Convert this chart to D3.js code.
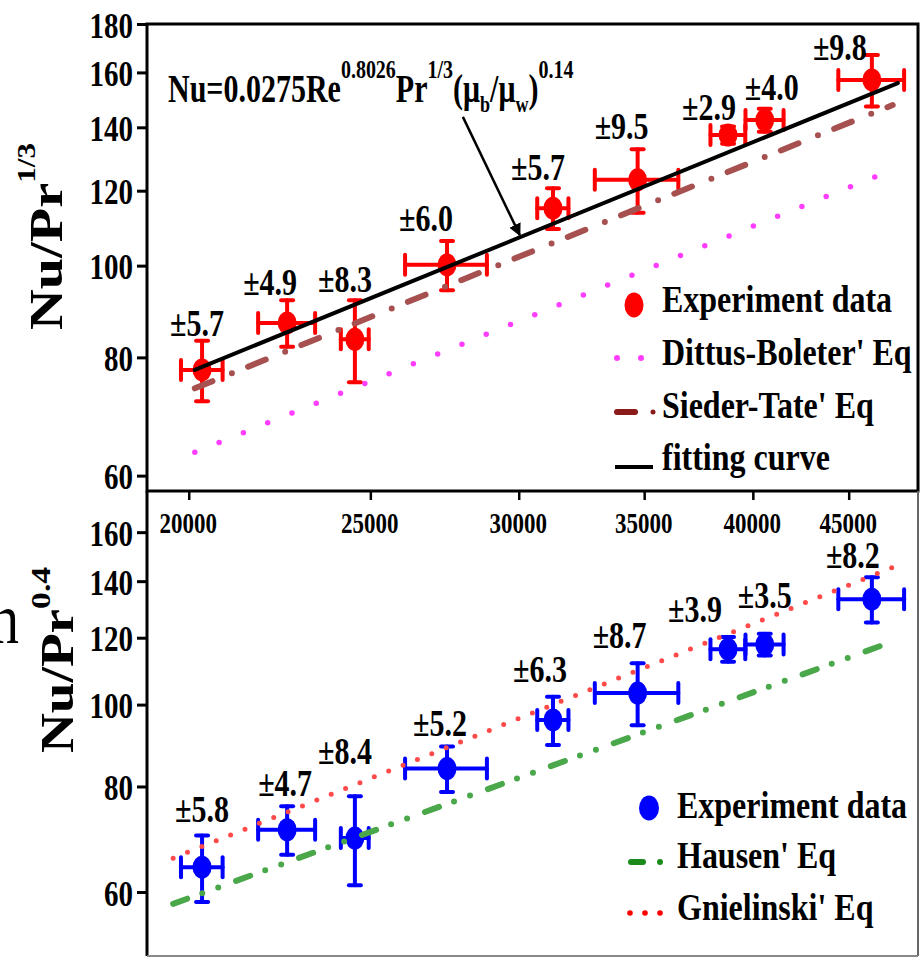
<!DOCTYPE html>
<html>
<head>
<meta charset="utf-8">
<script src="https://cdn.jsdelivr.net/npm/d3@7"></script>
<style>
  body { margin: 0; background: #fff; }
  svg { display: block; }
</style>
</head>
<body>
<div id="chart"></div>
<script>
// Re of each run (shared by both panels) and its horizontal error
var re = [20330, 22570, 24530, 27470, 31290, 34720, 38800, 40590, 46300];
var reErr = [520, 790, 420, 1380, 600, 1780, 830, 950, 1870];

// top panel : Nu/Pr^(1/3)
var nuTop = [77.6, 87.0, 83.6, 100.2, 115.0, 123.2, 137.4, 142.5, 157.1];
var errTop = [5.7, 4.9, 8.3, 6.0, 5.7, 9.5, 2.9, 4.0, 9.8];

// bottom panel : Nu/Pr^0.4
var nuBot = [64.2, 71.1, 69.5, 84.0, 95.9, 103.2, 116.3, 117.8, 133.3];
var errBot = [5.8, 4.7, 8.4, 5.2, 6.3, 8.7, 3.9, 3.5, 8.2];

// correlations (straight lines on log-log, end points)
var fitRe = [20150, 47800], fitNu = [77.6, 155.9];
var siederRe = [20150, 47500], siederNu = [74.2, 147.8];
var dittusRe = [20150, 46470], dittusNu = [63.5, 124.1];
var hausenRe = [19620, 47220], hausenNu = [58.1, 118.2];
var gnielRe = [19620, 47510], gnielNu = [65.8, 145.4];

// arrow from the equation to the fitting curve (data coords)
var arrowRe = [28010, 30040], arrowNu = [143.6, 107.7];

// ticks
var xTicks = [20000, 25000, 30000, 35000, 40000, 45000];
var yTicksTop = [60, 80, 100, 120, 140, 160, 180];
var yTicksBot = [60, 80, 100, 120, 140, 160];

var legendTop = ["Experiment data", "Dittus-Boleter' Eq", "Sieder-Tate' Eq", "fitting curve"];
var legendBot = ["Experiment data", "Hausen' Eq", "Gnielinski' Eq"];

var W = 921, H = 958;
var left = 147, right = 918, top1 = 24, mid = 491, bot2 = 956;
var SERIF = "'Liberation Serif', 'Times New Roman', serif";

var svg = d3.select("#chart").append("svg")
    .attr("width", W)
    .attr("height", H)
    .style("background", "#fff");

var x = d3.scaleLog().domain([19000, 49000]).range([left, right]);
var yTop = d3.scaleLog().domain([57.8, 180]).range([mid, top1]);
var yBot = d3.scaleLog().domain([50.4, 179]).range([bot2, mid]);

// text helper, the figure is stretched vertically
function stext(g, px, py, str, size, sy, anchor, weight) {
    return g.append("text")
        .attr("transform", "translate(" + px + "," + py + ") scale(1," + sy + ")")
        .attr("text-anchor", anchor || "start")
        .style("font-family", SERIF)
        .style("font-weight", weight || "bold")
        .style("font-size", size + "px")
        .attr("fill", "#000")
        .text(str);
}

// y axes
function yAxis(scale, ticks) {
    var g = svg.append("g")
        .attr("transform", "translate(" + left + ",0)")
        .call(d3.axisLeft(scale).tickValues(ticks).tickFormat(d3.format("d")).tickSize(10).tickSizeOuter(0));
    g.select(".domain").remove();
    g.selectAll(".tick line").attr("stroke", "#000").attr("stroke-width", 3);
    g.selectAll(".tick text")
        .attr("x", 0)
        .attr("dy", "0.36em")
        .attr("transform", "translate(-14,0) scale(1,1.27)")
        .attr("fill", "#000")
        .style("font-family", SERIF)
        .style("font-weight", "bold")
        .style("font-size", "29px");
}
yAxis(yTop, yTicksTop);
yAxis(yBot, yTicksBot);

// x axis on the shared middle line
var xg = svg.append("g")
    .attr("transform", "translate(0," + mid + ")")
    .call(d3.axisBottom(x).tickValues(xTicks).tickFormat(d3.format("d")).tickSize(9).tickSizeOuter(0));
xg.select(".domain").remove();
xg.selectAll(".tick line").attr("stroke", "#000").attr("stroke-width", 2.5);
xg.selectAll(".tick text")
    .attr("y", 0)
    .attr("dy", 0)
    .attr("transform", "translate(-1,42) scale(1,1.29)")
    .attr("fill", "#000")
    .style("font-family", SERIF)
    .style("font-weight", "bold")
    .style("font-size", "23px");

// axis titles
function yTitle(px, py, sup, size, supSize, supDy) {
    var t = svg.append("text")
        .attr("transform", "translate(" + px + "," + py + ") rotate(-90) scale(1.2,1)")
        .style("font-family", SERIF)
        .style("font-weight", "bold")
        .style("font-size", size + "px")
        .attr("fill", "#000");
    t.append("tspan").text("Nu/Pr");
    t.append("tspan").style("font-size", supSize + "px").attr("dy", supDy).text(sup);
}
yTitle(62, 330, "1/3", 47, 26, -27);
yTitle(73, 753, "0.4", 46, 28, -23);

// piece of a neighbouring label cut by the crop
stext(svg, 19, 643, "n", 56, 1.27, "end", "normal");

// data points with error bars
function drawPoints(y, vals, errs, color) {
    var rows = re.map(function (r, i) {
        return { r: r, rE: reErr[i], v: vals[i], e: errs[i] };
    });
    var g = svg.append("g").attr("stroke", color).attr("stroke-width", 4).attr("stroke-linecap", "round");
    rows.forEach(function (d) {
        var cx = x(d.r), cy = y(d.v);
        var yt = y(d.v + d.e), yb = y(d.v - d.e);
        var xl = x(d.r - d.rE), xr = x(d.r + d.rE);
        g.append("line").attr("x1", cx).attr("x2", cx).attr("y1", yt).attr("y2", yb);
        g.append("line").attr("x1", cx - 6).attr("x2", cx + 6).attr("y1", yt).attr("y2", yt);
        g.append("line").attr("x1", cx - 6).attr("x2", cx + 6).attr("y1", yb).attr("y2", yb);
        g.append("line").attr("x1", xl).attr("x2", xr).attr("y1", cy).attr("y2", cy);
        g.append("line").attr("x1", xl).attr("x2", xl).attr("y1", cy - 10).attr("y2", cy + 10);
        g.append("line").attr("x1", xr).attr("x2", xr).attr("y1", cy - 10).attr("y2", cy + 10);
        g.append("ellipse").attr("cx", cx).attr("cy", cy).attr("rx", 9.5).attr("ry", 11.5)
            .attr("fill", color).attr("stroke", "none");
    });
}
drawPoints(yTop, nuTop, errTop, "#ff0000");
drawPoints(yBot, nuBot, errBot, "#0000ff");

// error value labels
var topDx = [-5, -17, -10, -21, -15, -16, -19, 7, -32];
var topDy = [-5, -5, -8, -10, -8, -10, -6, -9, 5];
var botDx = [0, -2, -10, -7, -13, -18, -33, 0, -19];
var botDy = [-13, -10, -32, -11, -15, -15, -15, -26, -9];
re.forEach(function (r, i) {
    stext(svg, x(r) + topDx[i], yTop(nuTop[i] + errTop[i]) + topDy[i], "\u00b1" + errTop[i].toFixed(1), 30, 1.27, "middle");
    stext(svg, x(r) + botDx[i], yBot(nuBot[i] + errBot[i]) + botDy[i], "\u00b1" + errBot[i].toFixed(1), 30, 1.27, "middle");
});

// correlation lines
function corr(y, res, nus, color, width, dash) {
    var line = d3.line().x(function (d) { return x(d[0]); }).y(function (d) { return y(d[1]); });
    svg.append("path")
        .datum(res.map(function (r, i) { return [r, nus[i]]; }))
        .attr("d", line)
        .attr("fill", "none")
        .attr("stroke", color)
        .attr("stroke-width", width)
        .attr("stroke-linecap", "round")
        .attr("stroke-dasharray", dash);
}
corr(yTop, dittusRe, dittusNu, "#ff3dff", 5.5, "0,26.2");
corr(yTop, siederRe, siederNu, "#a65050", 6, "19,21,0,17.5");
corr(yTop, fitRe, fitNu, "#000", 4, null);
corr(yBot, hausenRe, hausenNu, "#4aa84a", 6, "15,16,0,17,0,19");
corr(yBot, gnielRe, gnielNu, "#ff4a4a", 5, "0,15.5");

// arrow
svg.append("defs").append("marker")
    .attr("id", "arrowhead")
    .attr("viewBox", "0 0 10 10")
    .attr("refX", 9).attr("refY", 5)
    .attr("markerWidth", 5).attr("markerHeight", 5)
    .attr("markerUnits", "strokeWidth")
    .attr("orient", "auto")
    .append("path").attr("d", "M0,0 L10,5 L0,10 z").attr("fill", "#000");
svg.append("line")
    .attr("x1", x(arrowRe[0])).attr("y1", yTop(arrowNu[0]))
    .attr("x2", x(arrowRe[1])).attr("y2", yTop(arrowNu[1]))
    .attr("stroke", "#000").attr("stroke-width", 2.5)
    .attr("marker-end", "url(#arrowhead)");

// equation, one text with raised / lowered pieces
var eq = stext(svg, 168, 102, "", 30, 1.3, "start");
var sup = -18.5, sub = 7.5;
[
    ["Nu=0.0275Re", 30, 0],
    ["0.8026", 20, sup],
    ["Pr", 30, -sup],
    ["1/3", 20, sup],
    ["(\u03bc", 30, -sup],
    ["b", 18, sub],
    ["/\u03bc", 30, -sub],
    ["w", 18, sub],
    [")", 30, -sub],
    ["0.14", 20, sup]
].forEach(function (p) {
    eq.append("tspan").style("font-size", p[1] + "px").attr("dy", p[2]).text(p[0]);
});

// legends
var lt = svg.append("g");
lt.append("ellipse").attr("cx", 634).attr("cy", 305).attr("rx", 9.5).attr("ry", 12.5).attr("fill", "#ff0000");
lt.append("circle").attr("cx", 617).attr("cy", 358).attr("r", 3).attr("fill", "#ff3dff");
lt.append("circle").attr("cx", 641).attr("cy", 358).attr("r", 3).attr("fill", "#ff3dff");
lt.append("line").attr("x1", 617).attr("x2", 635).attr("y1", 412).attr("y2", 412)
    .attr("stroke", "#8b1a1a").attr("stroke-width", 6).attr("stroke-linecap", "round");
lt.append("circle").attr("cx", 653).attr("cy", 412).attr("r", 2.5).attr("fill", "#8b1a1a");
lt.append("line").attr("x1", 615).attr("x2", 653).attr("y1", 467).attr("y2", 467)
    .attr("stroke", "#000").attr("stroke-width", 4);
legendTop.forEach(function (s, i) {
    stext(lt, 662, [312, 365, 418, 470][i], s, 32, 1.2, "start");
});

var lb = svg.append("g");
lb.append("ellipse").attr("cx", 649).attr("cy", 808).attr("rx", 10).attr("ry", 12.5).attr("fill", "#0000ff");
lb.append("line").attr("x1", 631).attr("x2", 643).attr("y1", 862).attr("y2", 862)
    .attr("stroke", "#1a8a1a").attr("stroke-width", 6).attr("stroke-linecap", "round");
lb.append("circle").attr("cx", 660).attr("cy", 862).attr("r", 3).attr("fill", "#1a8a1a");
[630, 645, 660].forEach(function (cx) {
    lb.append("circle").attr("cx", cx).attr("cy", 913).attr("r", 2.8).attr("fill", "#ff0000");
});
legendBot.forEach(function (s, i) {
    stext(lb, 677, [818, 868, 920][i], s, 32, 1.2, "start");
});

// panel frames
var fr = svg.append("g").attr("fill", "none");
fr.append("rect").attr("x", left).attr("y", top1).attr("width", right - left).attr("height", mid - top1)
    .attr("stroke", "#000").attr("stroke-width", 3);
fr.append("line").attr("x1", left).attr("x2", left).attr("y1", mid).attr("y2", bot2)
    .attr("stroke", "#000").attr("stroke-width", 3);
fr.append("line").attr("x1", right).attr("x2", right).attr("y1", mid).attr("y2", bot2)
    .attr("stroke", "#666").attr("stroke-width", 2);
fr.append("line").attr("x1", left).attr("x2", right).attr("y1", bot2).attr("y2", bot2)
    .attr("stroke", "#888").attr("stroke-width", 2);
</script>
</body>
</html>
